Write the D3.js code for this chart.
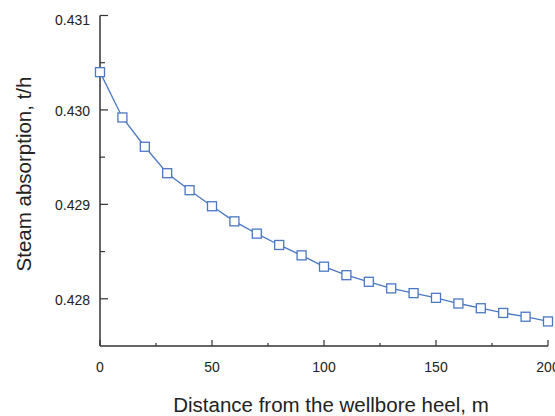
<!DOCTYPE html>
<html>
<head>
<meta charset="utf-8">
<script src="https://cdn.jsdelivr.net/npm/d3@7"></script>
<style>
  body { margin: 0; background: #fff; }
  text { font-family: "Liberation Sans", Arial, sans-serif; fill: #222; }
</style>
</head>
<body>
<div id="chart"></div>
<script>
// distance from heel, m
const distances = [0, 10, 20, 30, 40, 50, 60, 70, 80, 90, 100, 110, 120, 130, 140, 150, 160, 170, 180, 190, 200];
// steam absorption, t/h
const absorption = [0.43040, 0.42992, 0.42961, 0.42933, 0.42915, 0.42898, 0.42882, 0.42869, 0.42857, 0.42846,
  0.42834, 0.42825, 0.42818, 0.42811, 0.42806, 0.42801, 0.42795, 0.42790, 0.42785, 0.42781, 0.42776];
const xTicks = [0, 50, 100, 150, 200];
const xMinor = [25, 75, 125, 175];
const yTicks = [0.428, 0.429, 0.430, 0.431];
const yMinor = [0.4285, 0.4295, 0.4305];

const width = 555, height = 416;
const margin = {left: 100, right: 7, top: 15.5, bottom: 70};

const svg = d3.select('#chart').append('svg')
  .attr('width', width)
  .attr('height', height);

const x = d3.scaleLinear().domain([0, 200]).range([margin.left, width - margin.right]);
const y = d3.scaleLinear().domain([0.4275, 0.431]).range([height - margin.bottom, margin.top]);

const axisColor = '#333';

// x axis (ticks point inward)
const gx = svg.append('g').attr('transform', `translate(0,${y(0.4275)})`);
gx.append('line')
  .attr('x1', x(0)).attr('x2', x(200))
  .attr('stroke', axisColor).attr('stroke-width', 1.5);
gx.selectAll('.maj').data(xTicks).enter().append('line')
  .attr('x1', d => x(d)).attr('x2', d => x(d))
  .attr('y1', 0).attr('y2', -6)
  .attr('stroke', axisColor).attr('stroke-width', 1.2);
gx.selectAll('.min').data(xMinor).enter().append('line')
  .attr('x1', d => x(d)).attr('x2', d => x(d))
  .attr('y1', 0).attr('y2', -3)
  .attr('stroke', axisColor).attr('stroke-width', 1.2);
gx.selectAll('text').data(xTicks).enter().append('text')
  .attr('x', d => x(d)).attr('y', 26)
  .attr('text-anchor', 'middle')
  .style('font-size', '14px')
  .text(d => d);

// y axis
const gy = svg.append('g').attr('transform', `translate(${x(0)},0)`);
gy.append('line')
  .attr('y1', y(0.4275)).attr('y2', y(0.431))
  .attr('stroke', axisColor).attr('stroke-width', 1.5);
gy.selectAll('.maj').data(yTicks).enter().append('line')
  .attr('y1', d => y(d)).attr('y2', d => y(d))
  .attr('x1', 0).attr('x2', 8)
  .attr('stroke', axisColor).attr('stroke-width', 1.2);
gy.selectAll('.min').data(yMinor).enter().append('line')
  .attr('y1', d => y(d)).attr('y2', d => y(d))
  .attr('x1', 0).attr('x2', 5)
  .attr('stroke', axisColor).attr('stroke-width', 1.2);
gy.selectAll('text').data(yTicks).enter().append('text')
  .attr('x', -10)
  .attr('y', d => y(d) + (d === 0.431 ? 5 : 1))
  .attr('dy', '0.35em')
  .attr('text-anchor', 'end')
  .style('font-size', '14px')
  .text(d => d3.format('.3f')(d));

// axis titles
svg.append('text')
  .attr('x', 331).attr('y', 412)
  .attr('text-anchor', 'middle')
  .style('font-size', '20.5px')
  .text('Distance from the wellbore heel, m');

svg.append('text')
  .attr('transform', `translate(31,${174}) rotate(-90)`)
  .attr('text-anchor', 'middle')
  .style('font-size', '20.5px')
  .text('Steam absorption, t/h');

// series
const pts = distances.map((d, i) => ({d: d, v: absorption[i]}));
const blue = '#4a78c2';

svg.append('path')
  .datum(pts)
  .attr('fill', 'none')
  .attr('stroke', blue)
  .attr('stroke-width', 1.3)
  .attr('d', d3.line().x(p => x(p.d)).y(p => y(p.v)));

const s = 9;
svg.selectAll('rect.pt').data(pts).enter().append('rect')
  .attr('class', 'pt')
  .attr('x', p => x(p.d) - s / 2)
  .attr('y', p => y(p.v) - s / 2)
  .attr('width', s).attr('height', s)
  .attr('fill', '#fff')
  .attr('stroke', blue)
  .attr('stroke-width', 1.3);
</script>
</body>
</html>
